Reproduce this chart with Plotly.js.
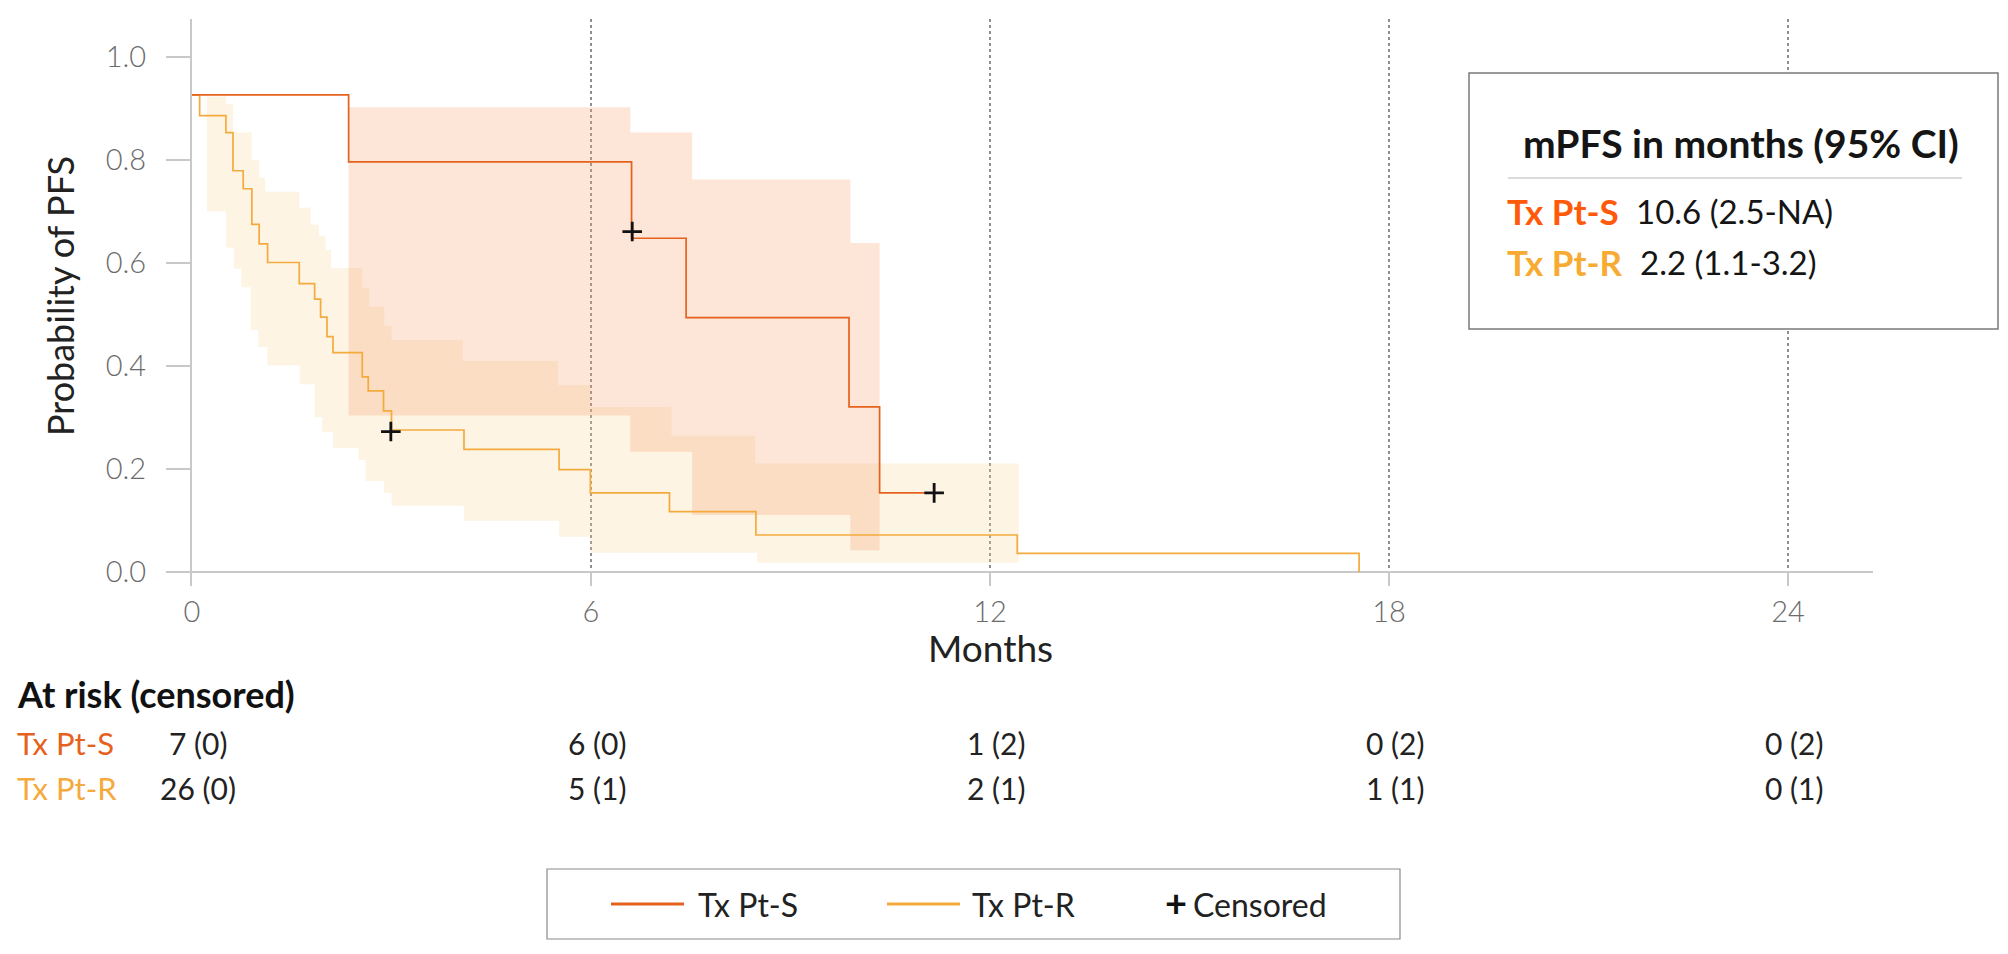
<!DOCTYPE html>
<html>
<head>
<meta charset="utf-8">
<script src="https://cdn.plot.ly/plotly-3.0.1.min.js"></script>
<style>
  html, body { margin: 0; padding: 0; background: #ffffff; }
  #chart { width: 2008px; height: 954px; }
</style>
</head>
<body>
<div id="chart"></div>
<script>
// ---------------- DATA ----------------
// Tx Pt-S Kaplan-Meier step curve (level starts at each time)
const sTime = [0, 2.355, 6.61, 7.43, 9.88, 10.34, 11.16];
const sSurv = [0.926, 0.796, 0.648, 0.494, 0.321, 0.154, 0.154];
const sCensorTime = [6.62, 11.16];
const sCensorSurv = [0.661, 0.154];
// Tx Pt-S 95% CI band (levels between consecutive times)
const sBandTime = [2.355, 6.59, 7.52, 9.90, 10.34];
const sBandUpper = [0.902, 0.853, 0.762, 0.639];
const sBandLower = [0.304, 0.234, 0.111, 0.043];

// Tx Pt-R Kaplan-Meier step curve
const rTime = [0, 0.115, 0.51, 0.616, 0.77, 0.90, 1.01, 1.137, 1.613, 1.844, 1.934, 2.03, 2.12, 2.56, 2.65, 2.88, 3.0, 4.09, 5.52, 5.99, 7.18, 8.48, 12.41, 17.55];
const rSurv = [0.926, 0.886, 0.853, 0.779, 0.744, 0.675, 0.637, 0.601, 0.560, 0.530, 0.495, 0.457, 0.426, 0.379, 0.352, 0.313, 0.276, 0.2385, 0.199, 0.154, 0.1176, 0.0724, 0.0368, 0];
const rCensorTime = [2.99];
const rCensorSurv = [0.273];
// Tx Pt-R 95% CI band
const rUpperTime = [0.225, 0.511, 0.616, 0.897, 1.01, 1.10, 1.613, 1.784, 1.909, 2.01, 2.09, 2.56, 2.665, 2.89, 3.0, 4.07, 5.50, 5.99, 7.21, 8.47, 12.43];
const rUpper = [0.923, 0.908, 0.853, 0.800, 0.766, 0.738, 0.707, 0.674, 0.652, 0.625, 0.590, 0.552, 0.515, 0.478, 0.450, 0.410, 0.363, 0.320, 0.265, 0.211];
const rLowerTime = [0.225, 0.511, 0.631, 0.742, 0.882, 0.997, 1.132, 1.618, 1.844, 1.959, 2.12, 2.506, 2.61, 2.886, 3.0, 4.09, 5.52, 5.99, 8.5, 12.43];
const rLower = [0.700, 0.630, 0.589, 0.553, 0.470, 0.437, 0.401, 0.365, 0.301, 0.272, 0.241, 0.218, 0.177, 0.154, 0.129, 0.100, 0.069, 0.038, 0.0187];

// Axis ticks
const xTickVals = [0, 6, 12, 18, 24];
const xTickText = ['0', '6', '12', '18', '24'];
const yTickVals = [0, 0.2, 0.4, 0.6, 0.8, 1.0];
const yTickText = ['0.0', '0.2', '0.4', '0.6', '0.8', '1.0'];

// At-risk table
const atRiskTimes = [0, 6, 12, 18, 24];
const atRiskS = ['7 (0)', '6 (0)', '1 (2)', '0 (2)', '0 (2)'];
const atRiskR = ['26 (0)', '5 (1)', '2 (1)', '1 (1)', '0 (1)'];

// Median PFS box
const groupNames = ['Tx Pt-S', 'Tx Pt-R'];
const medianText = ['10.6 (2.5-NA)', '2.2 (1.1-3.2)'];

// ---------------- STYLE / LAYOUT ----------------
const W = 2008, H = 954;
const L = 192, R = 1873, T = 19, B = 586;       // plot area in pixels
const pxPerMonth = 66.5, zeroY = 572.3, pxPerUnit = 515.5;
const px = x => (x - L) / (R - L);
const py = y => (B - y) / (B - T);

const COL_S = '#e5611e';
const COL_R = '#f4aa3d';
const COL_S_TXT = '#ff5a0a';
const COL_R_TXT = '#f7ab33';
const FONT = 'Lato, "Open Sans", "DejaVu Sans", sans-serif';

function bandPolygon(upT, up, loT, lo) {
  const x = [], y = [];
  for (let i = 0; i < up.length; i++) { x.push(upT[i], upT[i + 1]); y.push(up[i], up[i]); }
  for (let i = lo.length - 1; i >= 0; i--) { x.push(loT[i + 1], loT[i]); y.push(lo[i], lo[i]); }
  x.push(x[0]); y.push(y[0]);
  return { x, y };
}

const rBand = bandPolygon(rUpperTime, rUpper, rLowerTime, rLower);
const sBand = bandPolygon(sBandTime, sBandUpper, sBandTime, sBandLower);

const traces = [
  { type: 'scatter', mode: 'lines', x: rBand.x, y: rBand.y, fill: 'toself',
    fillcolor: 'rgba(247,211,147,0.25)', line: { width: 0, color: 'rgba(0,0,0,0)' },
    hoverinfo: 'skip', showlegend: false },
  { type: 'scatter', mode: 'lines', x: sBand.x, y: sBand.y, fill: 'toself',
    fillcolor: 'rgba(248,162,112,0.28)', line: { width: 0, color: 'rgba(0,0,0,0)' },
    hoverinfo: 'skip', showlegend: false },
  { type: 'scatter', mode: 'lines', name: 'Tx Pt-R', x: rTime, y: rSurv,
    line: { shape: 'hv', color: COL_R, width: 1.7 }, showlegend: false },
  { type: 'scatter', mode: 'lines', name: 'Tx Pt-S', x: sTime, y: sSurv,
    line: { shape: 'hv', color: COL_S, width: 1.7 }, showlegend: false },
  { type: 'scatter', mode: 'markers', name: 'Censored', x: rCensorTime.concat(sCensorTime),
    y: rCensorSurv.concat(sCensorSurv),
    marker: { symbol: 'cross-thin-open', size: 14, color: '#111', line: { width: 2.8, color: '#111' } },
    showlegend: false }
];

const annotations = [];
function addText(text, x, y, opts) {
  annotations.push(Object.assign({
    text, x, y, xref: 'paper', yref: 'paper', showarrow: false,
    xanchor: 'left', yanchor: 'middle',
    font: { family: FONT, size: 28, color: '#222' }
  }, opts || {}));
}

// axis titles
addText('Months', 12, py(647), { xref: 'x', xanchor: 'center', font: { family: FONT, size: 37, color: '#222' } });
addText('Probability of PFS', px(60), py(296), { xanchor: 'center', textangle: -90, font: { family: FONT, size: 36, color: '#222' } });

// at-risk table
addText('<b>At risk (censored)</b>', px(15), py(694), { font: { family: FONT, size: 36, color: '#111', weight: 900 } });
addText(groupNames[0], px(15), py(743), { font: { family: FONT, size: 31, color: COL_S } });
addText(groupNames[1], px(15), py(788), { font: { family: FONT, size: 31, color: COL_R } });
atRiskTimes.forEach((t, i) => {
  addText(atRiskS[i], t, py(743), { xref: 'x', xanchor: 'center', xshift: 6, font: { family: FONT, size: 30, color: '#222' } });
  addText(atRiskR[i], t, py(788), { xref: 'x', xanchor: 'center', xshift: 6, font: { family: FONT, size: 30, color: '#222' } });
});

// median box text
addText('<b>mPFS in months (95% CI)</b>', px(1741), py(143), { xanchor: 'center', font: { family: FONT, size: 39, color: '#151515', weight: 900 } });
addText('<b>' + groupNames[0] + '</b>', px(1505), py(211), { font: { family: FONT, size: 35, color: COL_S_TXT, weight: 900 } });
addText(medianText[0], px(1634), py(211), { font: { family: FONT, size: 33, color: '#151515' } });
addText('<b>' + groupNames[1] + '</b>', px(1505), py(262), { font: { family: FONT, size: 35, color: COL_R_TXT, weight: 900 } });
addText(medianText[1], px(1638), py(262), { font: { family: FONT, size: 33, color: '#151515' } });

// legend text
addText(groupNames[0], px(696), py(904), { font: { family: FONT, size: 32, color: '#222' } });
addText(groupNames[1], px(970), py(904), { font: { family: FONT, size: 32, color: '#222' } });
addText('<b>+</b>', px(1176), py(902), { xanchor: 'center', font: { family: FONT, size: 38, color: '#111' } });
addText('Censored', px(1191), py(904), { font: { family: FONT, size: 32, color: '#222' } });

const shapes = [
  // median box
  { type: 'rect', xref: 'paper', yref: 'paper', x0: px(1469), x1: px(1998), y0: py(329), y1: py(73),
    fillcolor: '#ffffff', line: { color: '#7a7a7a', width: 1.5 }, layer: 'above' },
  { type: 'line', xref: 'paper', yref: 'paper', x0: px(1508), x1: px(1962), y0: py(178), y1: py(178),
    line: { color: '#cfcfcf', width: 1.5 }, layer: 'above' },
  // legend box
  { type: 'rect', xref: 'paper', yref: 'paper', x0: px(547), x1: px(1400), y0: py(939), y1: py(869),
    fillcolor: 'rgba(0,0,0,0)', line: { color: '#8a8a8a', width: 1.2 } },
  { type: 'line', xref: 'paper', yref: 'paper', x0: px(611), x1: px(684), y0: py(904), y1: py(904),
    line: { color: COL_S, width: 3 } },
  { type: 'line', xref: 'paper', yref: 'paper', x0: px(887), x1: px(960), y0: py(904), y1: py(904),
    line: { color: COL_R, width: 3 } }
];

const layout = {
  width: W, height: H,
  margin: { l: L, r: W - R, t: T, b: H - B, pad: 0 },
  paper_bgcolor: '#ffffff', plot_bgcolor: '#ffffff',
  font: { family: FONT, color: '#222' },
  xaxis: {
    range: [0, (R - L) / pxPerMonth],
    tickvals: xTickVals, ticktext: xTickText,
    showgrid: true, gridcolor: '#8f8f8f', griddash: 'dot', gridwidth: 1.2,
    zeroline: false, showline: false,
    ticks: 'inside', ticklen: 13, tickwidth: 2, tickcolor: '#c8c8c8',
    ticklabelstandoff: 6,
    tickfont: { family: FONT, size: 29, color: '#6b6b6b', weight: 300 },
    fixedrange: true
  },
  yaxis: {
    range: [(zeroY - B) / pxPerUnit, (zeroY - T) / pxPerUnit],
    tickvals: yTickVals, ticktext: yTickText,
    showgrid: false,
    zeroline: true, zerolinecolor: '#c8c8c8', zerolinewidth: 2,
    showline: true, linecolor: '#c8c8c8', linewidth: 2,
    ticks: 'outside', ticklen: 24, tickwidth: 2, tickcolor: '#c8c8c8',
    ticklabelstandoff: 14,
    tickfont: { family: FONT, size: 29, color: '#6b6b6b', weight: 300 },
    fixedrange: true
  },
  showlegend: false,
  annotations, shapes
};

Plotly.newPlot('chart', traces, layout, { displayModeBar: false, staticPlot: true });
</script>
</body>
</html>
